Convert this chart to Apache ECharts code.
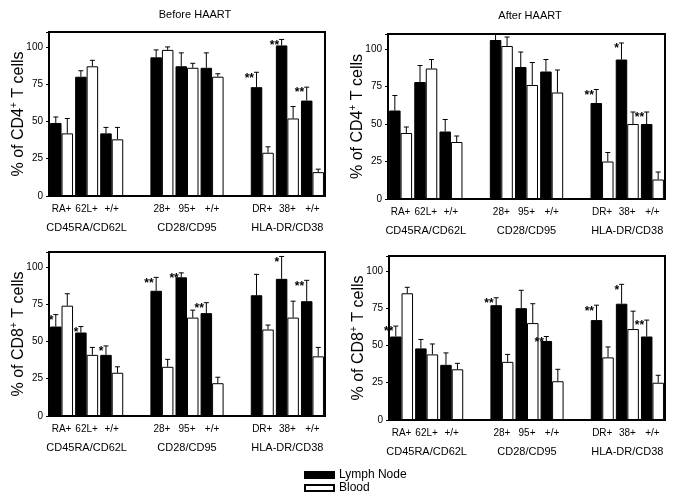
<!DOCTYPE html>
<html>
<head>
<meta charset="utf-8">
<script src="https://cdn.jsdelivr.net/npm/echarts@6/dist/echarts.min.js"></script>
<style>html,body{margin:0;padding:0;background:#fff;}#c{width:683px;height:502px;}</style>
</head>
<body>
<div id="c"></div>
<script>
// ---- data ----
const categories = ['RA+', '62L+', '+/+', '28+', '95+', '+/+', 'DR+', '38+', '+/+'];
const groupLabels = ['CD45RA/CD62L', 'CD28/CD95', 'HLA-DR/CD38'];
const yTicks = [0, 25, 50, 75, 100];
const seriesNames = ['Lymph Node', 'Blood'];

// Before HAART, CD4
const cd4BeforeLN = [49, 80, 42, 93, 87, 86, 73, 101, 64];
const cd4BeforeLNErr = [4, 4, 4, 5, 9, 10, 10, 4, 9];
const cd4BeforeBL = [42, 87, 38, 98, 86, 80, 29, 52, 16];
const cd4BeforeBLErr = [10, 4, 8, 2, 3, 2, 4, 8, 2];
const cd4BeforeStars = ['', '', '', '', '', '', '**', '**', '**'];

// After HAART, CD4
const cd4AfterLN = [59, 78, 45, 106, 88, 85, 64, 93, 50];
const cd4AfterLNErr = [10, 11, 8, 4, 10, 8, 9, 11, 8];
const cd4AfterBL = [44, 87, 38, 102, 76, 71, 25, 50, 13];
const cd4AfterBLErr = [4, 6, 4, 6, 15, 15, 6, 8, 5];
const cd4AfterStars = ['', '', '', '', '', '', '**', '*', '**'];

// Before HAART, CD8
const cd8BeforeLN = [60, 56, 41, 84, 93, 69, 81, 92, 77];
const cd8BeforeLNErr = [8, 4, 6, 9, 3, 7, 14, 15, 14];
const cd8BeforeBL = [74, 41, 29, 33, 66, 22, 58, 66, 40];
const cd8BeforeBLErr = [8, 5, 4, 5, 5, 4, 3, 11, 6];
const cd8BeforeStars = ['*', '*', '*', '**', '**', '**', '', '*', '**'];

// After HAART, CD8
const cd8AfterLN = [56, 48, 37, 77, 75, 53, 67, 78, 56];
const cd8AfterLNErr = [7, 6, 8, 5, 12, 3, 10, 13, 11];
const cd8AfterBL = [85, 44, 34, 39, 65, 26, 42, 61, 25];
const cd8AfterBLErr = [4, 7, 4, 5, 13, 8, 7, 12, 5];
const cd8AfterStars = ['**', '', '', '**', '', '**', '**', '*', '**'];

// ---- layout / style ----
const FONT = 'Liberation Sans, Arial, Helvetica, sans-serif';
const BAR_W = 11.5;
const panels = [
  {grid: {left: 49, top: 32, width: 276, height: 164}, cell: 'CD4', ln: cd4BeforeLN, lnErr: cd4BeforeLNErr, bl: cd4BeforeBL, blErr: cd4BeforeBLErr, stars: cd4BeforeStars},
  {grid: {left: 388, top: 34, width: 277, height: 165}, cell: 'CD4', ln: cd4AfterLN, lnErr: cd4AfterLNErr, bl: cd4AfterBL, blErr: cd4AfterBLErr, stars: cd4AfterStars},
  {grid: {left: 49, top: 252, width: 276, height: 164}, cell: 'CD8', ln: cd8BeforeLN, lnErr: cd8BeforeLNErr, bl: cd8BeforeBL, blErr: cd8BeforeBLErr, stars: cd8BeforeStars},
  {grid: {left: 389, top: 256, width: 276, height: 164}, cell: 'CD8', ln: cd8AfterLN, lnErr: cd8AfterLNErr, bl: cd8AfterBL, blErr: cd8AfterBLErr, stars: cd8AfterStars}
];

// slot index with a blank slot between groups
const slotOf = i => i + Math.floor(i / 3);
const NSLOT = categories.length + groupLabels.length - 1;
const tickAxisData = [];
const groupAxisData = [];
for (let s = 0; s < NSLOT; s++) { tickAxisData.push(''); groupAxisData.push(''); }
categories.forEach((c, i) => { tickAxisData[slotOf(i)] = c; });
groupLabels.forEach((g, k) => { groupAxisData[slotOf(k * 3 + 1)] = g; });

function barData(vals) {
  const d = [];
  for (let s = 0; s < NSLOT; s++) d.push('-');
  vals.forEach((v, i) => { d[slotOf(i)] = v; });
  return d;
}
function errData(vals, errs) {
  return vals.map((v, i) => [slotOf(i), v, v + errs[i]]);
}
function errRender(offset, stars) {
  return function (params, api) {
    const slot = api.value(0);
    const x = api.coord([slot, 0])[0] + offset;
    const yMean = api.coord([slot, api.value(1)])[1];
    const yTop = api.coord([slot, api.value(2)])[1];
    const children = [
      {type: 'line', shape: {x1: x, y1: yMean, x2: x, y2: yTop}, style: {stroke: '#000', lineWidth: 1}},
      {type: 'line', shape: {x1: x - 2.5, y1: yTop, x2: x + 2.5, y2: yTop}, style: {stroke: '#000', lineWidth: 1}}
    ];
    const st = stars ? stars[params.dataIndex] : '';
    if (st) {
      children.push({type: 'text', x: x - 2.5, y: yTop + 6,
        style: {text: st, font: 'bold 12px ' + FONT, fill: '#000', align: 'right', verticalAlign: 'middle'}});
    }
    return {type: 'group', children: children};
  };
}

const grids = [], xAxes = [], yAxes = [], series = [];
panels.forEach((p, k) => {
  grids.push(Object.assign({show: true, borderColor: '#000', borderWidth: 2, backgroundColor: 'transparent'}, p.grid));
  xAxes.push({type: 'category', gridIndex: k, data: tickAxisData, boundaryGap: true,
    axisLine: {lineStyle: {color: '#000', width: 2}}, axisTick: {show: false},
    axisLabel: {interval: 0, color: '#000', fontSize: 10, margin: 8, fontFamily: FONT}});
  xAxes.push({type: 'category', gridIndex: k, data: groupAxisData, boundaryGap: true, position: 'bottom', offset: 18,
    axisLine: {show: false}, axisTick: {show: false},
    axisLabel: {interval: 0, color: '#000', fontSize: 11, margin: 8, fontFamily: FONT}});
  yAxes.push({type: 'value', gridIndex: k, min: 0, max: 110, interval: 25,
    splitLine: {show: false},
    axisLine: {show: true, lineStyle: {color: '#000', width: 1.5}},
    axisTick: {show: true, inside: false, length: 3, lineStyle: {color: '#000'}},
    axisLabel: {color: '#000', fontSize: 10, margin: 6, fontFamily: FONT,
      formatter: v => (yTicks.indexOf(v) >= 0 ? String(v) : '')},
    name: '% of ' + p.cell + '{sup|+} T cells', nameLocation: 'middle', nameGap: 20, nameMoveOverlap: false,
    nameTextStyle: {color: '#000', fontSize: 16, fontFamily: FONT, lineHeight: 20,
      rich: {sup: {fontSize: 10, verticalAlign: 'top', lineHeight: 20, fontFamily: FONT, color: '#000'}}}});
  const xi = k * 2;
  series.push({name: seriesNames[0], type: 'bar', xAxisIndex: xi, yAxisIndex: k, data: barData(p.ln),
    barWidth: BAR_W, barGap: '0%', itemStyle: {color: '#000', borderColor: '#000', borderWidth: 1}, z: 2, animation: false});
  series.push({name: seriesNames[1], type: 'bar', xAxisIndex: xi, yAxisIndex: k, data: barData(p.bl),
    barWidth: BAR_W, barGap: '0%', itemStyle: {color: '#fff', borderColor: '#000', borderWidth: 1}, z: 2, animation: false});
  series.push({type: 'custom', xAxisIndex: xi, yAxisIndex: k, data: errData(p.ln, p.lnErr),
    renderItem: errRender(-BAR_W / 2, p.stars), encode: {x: 0, y: [1, 2]}, z: 3, animation: false, silent: true});
  series.push({type: 'custom', xAxisIndex: xi, yAxisIndex: k, data: errData(p.bl, p.blErr),
    renderItem: errRender(BAR_W / 2, null), encode: {x: 0, y: [1, 2]}, z: 3, animation: false, silent: true});
});

const chart = echarts.init(document.getElementById('c'), null, {renderer: 'canvas'});
chart.setOption({
  animation: false,
  backgroundColor: '#fff',
  textStyle: {fontFamily: FONT},
  grid: grids,
  xAxis: xAxes,
  yAxis: yAxes,
  legend: {data: seriesNames, orient: 'vertical', left: 299, top: 464, itemWidth: 29, itemHeight: 6, itemGap: 1,
    icon: 'rect', textStyle: {color: '#000', fontSize: 12, fontFamily: FONT}, selectedMode: false},
  graphic: [
    {type: 'text', x: 195, y: 15, style: {text: 'Before HAART', font: '11px ' + FONT, fill: '#000', align: 'center', verticalAlign: 'middle'}},
    {type: 'text', x: 530, y: 16, style: {text: 'After HAART', font: '11px ' + FONT, fill: '#000', align: 'center', verticalAlign: 'middle'}}
  ],
  series: series
});
</script>
</body>
</html>
